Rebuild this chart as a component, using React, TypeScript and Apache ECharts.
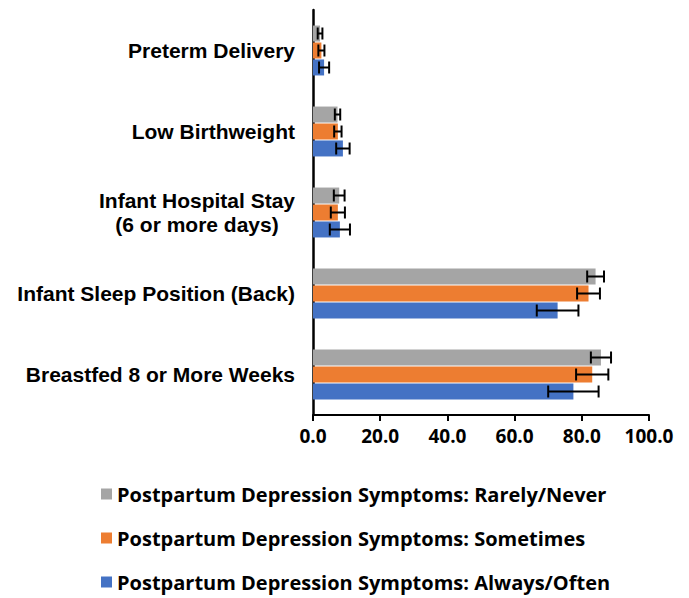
import React, { useEffect, useRef } from "react";
import * as echarts from "echarts";

const categories = [
  "Preterm Delivery",
  "Low Birthweight",
  "Infant Hospital Stay\n(6 or more days)",
  "Infant Sleep Position (Back)",
  "Breastfed 8 or More Weeks",
];
const seriesNames = [
  "Postpartum Depression Symptoms: Rarely/Never",
  "Postpartum Depression Symptoms: Sometimes",
  "Postpartum Depression Symptoms: Always/Often",
];
const rarelyValues = [2.1, 7.3, 7.8, 84.1, 85.7];
const rarelyErrors = [0.7, 0.8, 1.6, 2.5, 3.0];
const sometimesValues = [2.5, 7.4, 7.4, 82.0, 83.1];
const sometimesErrors = [0.9, 1.1, 2.1, 3.4, 4.8];
const alwaysValues = [3.3, 8.9, 8.0, 72.8, 77.5];
const alwaysErrors = [1.5, 2.0, 3.0, 6.2, 7.5];
const xTicks = { min: 0, max: 100, interval: 20 };

const colors = ["#A5A5A5", "#ED7D31", "#4472C4"];
const LABEL_FONT = "Liberation Sans";
const FONT = "Open Sans";

export default function App() {
  const ref = useRef<HTMLDivElement>(null);
  useEffect(() => {
    document.body.style.margin = "0";
    const chart = echarts.init(ref.current!, null, { renderer: "svg" });
    const values = [rarelyValues, sometimesValues, alwaysValues];
    const errors = [rarelyErrors, sometimesErrors, alwaysErrors];
    const barWidth = 16;
    const step = 17;
    const offsets = [-step, 0, step];

    const barSeries = values.map((vals, i) => ({
      type: "bar",
      name: seriesNames[i],
      data: vals,
      barWidth,
      barGap: "6%",
      itemStyle: { color: colors[i] },
    }));

    const errSeries = values.map((vals, i) => ({
      type: "custom",
      name: "err" + i,
      data: vals.map((v, k) => [k, v - errors[i][k], v + errors[i][k]]),
      encode: { y: 0, x: [1, 2] },
      z: 10,
      renderItem: (params: any, api: any) => {
        const k = api.value(0);
        const lo = api.coord([api.value(1), k]);
        const hi = api.coord([api.value(2), k]);
        const y = lo[1] + offsets[i];
        const h = 6;
        const style = { stroke: "#000", lineWidth: 2 };
        return {
          type: "group",
          children: [
            { type: "line", shape: { x1: lo[0], y1: y, x2: hi[0], y2: y }, style },
            { type: "line", shape: { x1: lo[0], y1: y - h, x2: lo[0], y2: y + h }, style },
            { type: "line", shape: { x1: hi[0], y1: y - h, x2: hi[0], y2: y + h }, style },
          ],
        };
      },
    }));

    chart.setOption({
      animation: false,
      textStyle: { fontFamily: FONT },
      grid: { left: 313, top: 10, width: 336, height: 405, containLabel: false },
      legend: {
        data: seriesNames,
        orient: "vertical",
        left: 96,
        top: 479,
        height: 130,
        itemWidth: 11,
        itemHeight: 11,
        itemGap: 24,
        icon: "rect",
        textStyle: { fontFamily: FONT, fontWeight: "bold", fontSize: 20, color: "#000", lineHeight: 20 },
      },
      xAxis: {
        type: "value",
        min: xTicks.min,
        max: xTicks.max,
        interval: xTicks.interval,
        axisLine: { show: true, lineStyle: { color: "#000", width: 2 } },
        axisTick: { show: true, length: 6, lineStyle: { color: "#000", width: 2 } },
        splitLine: { show: false },
        axisLabel: {
          formatter: (v: number) => v.toFixed(1),
          fontFamily: FONT,
          fontWeight: "bold",
          fontSize: 19,
          color: "#000",
          margin: 11,
        },
      },
      yAxis: {
        type: "category",
        data: categories,
        inverse: true,
        axisLine: { show: true, lineStyle: { color: "#000", width: 2.5 } },
        axisTick: { show: false },
        axisLabel: {
          margin: 18,
          color: "#000",
          formatter: (v: string) => v.split("\n").map((s) => "{c|" + s + "}").join("\n"),
          rich: {
            c: { fontFamily: LABEL_FONT, fontWeight: "bold", fontSize: 21, color: "#000", align: "center", lineHeight: 24 },
          },
        },
      },
      series: [...barSeries, ...errSeries],
    });
    return () => chart.dispose();
  }, []);
  return <div ref={ref} style={{ width: 689, height: 598 }} />;
}
